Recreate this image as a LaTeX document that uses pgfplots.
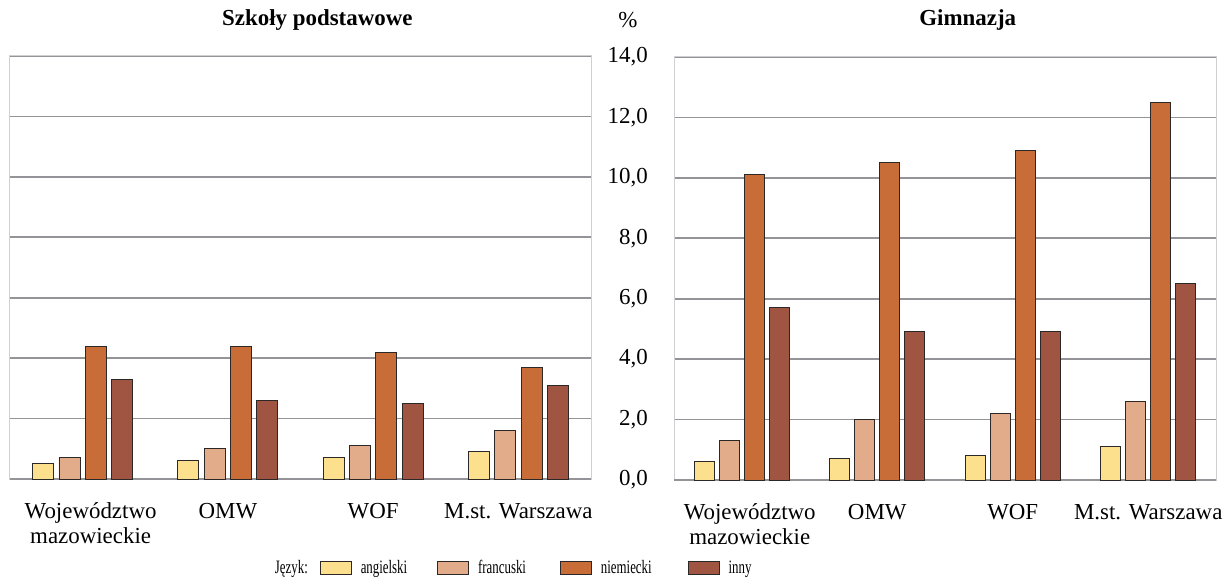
\documentclass[border=0pt]{standalone}
\usepackage{pgfplots}
\pgfplotsset{compat=1.18}
\usepackage{fontspec}
\setmainfont{Liberation Serif}
\newfontfamily\condfont[FakeStretch=0.68]{Liberation Serif}
\definecolor{cAng}{RGB}{253,224,142}
\definecolor{cFra}{RGB}{226,172,138}
\definecolor{cNie}{RGB}{200,108,56}
\definecolor{cInn}{RGB}{160,84,66}
\definecolor{gridc}{RGB}{148,148,152}
\definecolor{basec}{RGB}{140,140,144}
\definecolor{framec}{RGB}{208,208,211}
\definecolor{edgec}{RGB}{45,40,40}
\pgfplotsset{
  mylegend/.style={legend image code/.code={\draw[##1] (0bp,-6.5bp) rectangle (31bp,6.5bp);}},
  panel/.style={
    scale only axis, height=423bp, clip=false,
    ymin=0, ymax=14, ytick={0,2,...,14},
    xmin=-0.5, xmax=3.5, xtick={0,1,2,3},
    axis line style={draw=framec, line width=1bp},
    ymajorgrids, major grid style={draw=gridc, line width=1.6bp},
    major tick length=0pt,
    xticklabels={{\strut\hspace*{16bp}Województwo\\\hspace*{16bp}mazowieckie},{\strut OMW},{\strut WOF},{\strut M.st. Warszawa}},
    xticklabel style={font=\fontsize{23}{25}\selectfont, align=center, anchor=north, inner sep=0pt, yshift=-21.5bp},
    extra y ticks={0}, extra y tick labels={},
    extra y tick style={grid style={draw=basec, line width=2.2bp}},
    every axis plot/.append style={draw=edgec, line width=0.9bp},
    title style={font=\bfseries\fontsize{23}{26}\selectfont, anchor=base},
  }
}
\begin{document}
\begin{tikzpicture}
\useasboundingbox (-10bp,-109bp) rectangle (1218bp,479bp);
\begin{axis}[panel, width=581bp, ybar=5.3bp, bar width=21bp,
  yticklabels={},
  title={Szkoły podstawowe}, title style={at={(0.529,1.059)}},
  legend columns=-1,
  legend style={at={(0.4406,-0.210)}, anchor=west, draw=none, fill=none,
    inner sep=0pt, outer sep=0pt, nodes={inner sep=0pt},
    font=\condfont\fontsize{19}{21}\selectfont,
    /tikz/every odd column/.append style={column sep=9bp},
    /tikz/column 2/.append style={column sep=12bp},
    /tikz/column 4/.append style={column sep=30bp},
    /tikz/column 6/.append style={column sep=34bp},
    /tikz/column 8/.append style={column sep=36bp}},
  legend cell align=left]
\addlegendimage{empty legend}\addlegendentry{Język:}
\addplot[fill=cAng, mylegend] coordinates {(0,0.5) (1,0.6) (2,0.7) (3,0.9)};
\addlegendentry{angielski}
\addplot[fill=cFra, mylegend] coordinates {(0,0.7) (1,1.0) (2,1.1) (3,1.6)};
\addlegendentry{francuski}
\addplot[fill=cNie, mylegend] coordinates {(0,4.4) (1,4.4) (2,4.2) (3,3.7)};
\addlegendentry{niemiecki}
\addplot[fill=cInn, mylegend] coordinates {(0,3.3) (1,2.6) (2,2.5) (3,3.1)};
\addlegendentry{inny}
\end{axis}
\begin{axis}[panel, at={(664bp,-1bp)}, anchor=south west, width=542bp, ybar=5bp, bar width=20bp,
  yticklabel style={font=\fontsize{23}{25}\selectfont, anchor=east, inner sep=0pt, xshift=-26bp},
  /pgf/number format/.cd, fixed, fixed zerofill, precision=1, use comma, assume math mode=true,
  /pgfplots/.cd,
  title={Gimnazja}, title style={at={(0.542,1.0615)}}]
\addplot[fill=cAng] coordinates {(0,0.6) (1,0.7) (2,0.8) (3,1.1)};
\addplot[fill=cFra] coordinates {(0,1.3) (1,2.0) (2,2.2) (3,2.6)};
\addplot[fill=cNie] coordinates {(0,10.1) (1,10.5) (2,10.9) (3,12.5)};
\addplot[fill=cInn] coordinates {(0,5.7) (1,4.9) (2,4.9) (3,6.5)};
\node[font=\fontsize{23}{25}\selectfont, anchor=base] at (rel axis cs:-0.0849,1.0686) {\%};
\end{axis}
\end{tikzpicture}
\end{document}
